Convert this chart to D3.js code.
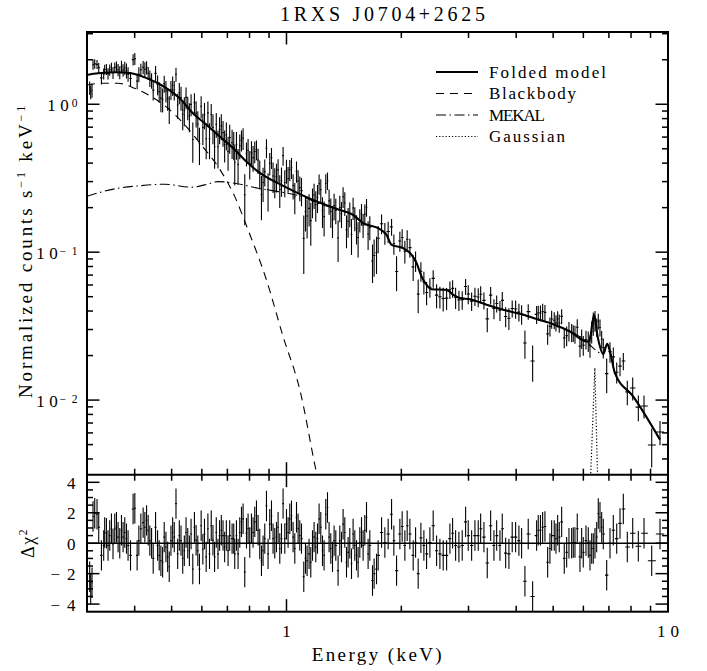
<!DOCTYPE html>
<html><head><meta charset="utf-8">
<script src="https://cdn.jsdelivr.net/npm/d3@7"></script>
<style>
body{margin:0;background:#fff}
</style>
</head><body>
<svg id="c" width="707" height="671"></svg>
<script>
// ---------------- DATA ----------------
const titleText = "1RXS J0704+2625";
const xTitle = "Energy (keV)";
const legendItems = ["Folded model","Blackbody","MEKAL","Gaussian"];

// bin centre energies (keV)
const energy = [
0.3049,0.3068,0.3092,0.3111,0.3143,0.3187,0.3220,0.3273,0.3318,0.3338,0.3373,0.3406,0.3441,0.3477,0.3510,0.3547,0.3584,
0.3619,0.3656,0.3694,0.3730,0.3768,0.3807,0.3844,0.3901,0.3963,0.4004,0.4060,0.4102,0.4152,0.4210,0.4254,0.4298,0.4340,0.4384,0.4430,0.4473,
0.4538,0.4594,0.4638,0.4686,0.4735,0.4781,0.4831,0.4881,0.4928,0.4979,0.5031,0.5080,0.5133,0.5186,
0.5237,0.5291,0.5346,0.5398,0.5454,0.5511,0.5565,0.5622,0.5681,0.5737,0.5796,0.5856,0.5914,0.5975,
0.6037,0.6096,0.6159,0.6223,0.6284,0.6350,0.6416,0.6479,0.6546,0.6614,0.6679,0.6748,0.6818,0.6885,0.6956,0.7029,0.7098,0.7202,0.7274,0.7318,0.7394,0.7466,
0.7543,0.7621,0.7695,0.7774,0.7855,0.7931,0.8012,0.8095,0.8173,0.8257,
0.8343,0.8424,0.8510,0.8598,0.8682,0.8771,0.8862,0.8948,0.9040,0.9134,
0.9222,0.9318,0.9414,0.9506,0.9603,0.9703,0.9797,0.9898,1.0000,1.0097,
1.0201,1.0306,1.0407,1.0514,1.0623,1.0725,1.0836,1.0948,1.1100,1.1215,
1.1324,1.1461,1.1580,1.1700,1.1813,1.1935,1.2058,1.2175,1.2300,1.2427,
1.2548,1.2677,1.2808,1.2932,
1.3066,1.3201,1.3329,1.3466,1.3654,1.3795,1.3937,1.4073,1.4218,1.4365,
1.4504,1.4654,1.4805,1.4949,1.5103,1.5259,1.5407,1.5566,1.5727,1.5879,
1.6043,1.6209,1.6366,1.6535,1.6807,1.6970,1.7218,1.7389,1.7750,
1.8107,1.8471,1.8855,1.9118,1.9433,1.9824,2.0101,2.0431,2.0717,2.1058,2.1482,2.1796,2.2141,2.2505,2.2916,2.3292,2.3762,2.4240,2.4743,
2.5241,2.5749,2.6284,2.6813,2.7254,2.7752,2.8311,2.8881,2.9480,2.9947,3.0569,3.1185,3.1813,3.2278,3.2928,3.3591,3.4288,3.4978,3.5554,3.6270,3.6776,3.7539,3.8282,3.9053,3.9863,
4.0666,4.1333,4.2168,4.3017,4.4174,4.5254,4.5694,4.6306,4.6925,4.7581,4.8364,4.9040,4.9546,5.0330,5.0851,5.1376,5.1875,5.2632,5.3466,5.4247,5.5004,5.5909,5.6452,5.7035,5.7832,5.8783,5.9390,5.9966,
6.0952,6.1806,6.2445,6.3090,6.3702,6.4359,6.5023,6.5655,6.6332,6.7017,6.7669,6.9073,7.0465,7.1883,7.3376,7.4855,
7.6361,7.8226,8.0817,8.3602,8.6529,9.0634,9.5286];

// residuals (data-model)/error
const delchi = [
-2.2,-3.0,-2.6,1.75,1.97,1.9,1.05,-0.8,-0.15,0.7,0.65,-0.15,0.5,0.95,-0.05,0.95,1.05,
0.4,0,0.85,0.4,0.7,0.3,-0.15,-0.8,2.25,2.3,-0.8,0.17,0.95,1.35,1.05,1.5,0.85,0.17,0,-1.0,
1.05,-0.15,-0.8,-1.15,-1.25,0.4,-0.25,-0.9,-1.55,0.17,0.7,0.4,2.6,-0.7,
0.5,0.17,-1.0,-0.5,0.7,0,-0.5,0.6,-1.7,1.05,0.2,-0.5,-1.7,1.15,
-0.4,0.6,-0.9,0.95,-0.7,1.15,0.2,-0.9,0.7,-0.7,0.5,0.85,0.5,-0.25,0.5,-0.5,0.5,0.3,0.3,-0.7,0.5,-0.7,
0.7,1.4,1.6,-1.9,0.65,0.95,0.05,0.95,0.7,1.4,
1.8,0.85,-0.05,-1.15,-0.5,0.3,2.45,-0.7,1.25,1.8,
0.3,0,0.4,1.05,-0.35,0.3,2.6,0.3,1.25,0.7,
1.6,1.8,0.4,-0.35,1.7,0.95,0.5,0.3,-2.2,-1.0,
-1.15,-0.7,-1.25,-0.15,0.4,-0.25,0.3,1.6,1.05,-0.5,
-0.8,1.9,2.35,0.4,
-0.35,-0.9,0.17,-0.15,-1.8,0.17,-0.25,1.25,0.7,-1.25,
-0.6,0,-1.35,0.6,-0.15,-0.8,-1.25,0.05,0.7,-0.15,
0.85,1.7,-0.7,-0.15,-2.45,-2.0,-1.7,-0.8,0.7,
0.05,0.6,1.9,0.17,-1.8,0.6,1.1,-0.15,1.15,0.6,-0.8,0.05,-2.0,0.35,-0.15,-0.7,0.05,1.15,-0.5,
-0.7,-0.8,-0.8,0.3,0.65,-0.15,-0.25,-0.15,1.4,0.5,-0.15,0.5,0.5,0.95,0.4,-1.3,1.15,-0.15,0.5,-0.15,0.95,-0.65,-0.7,0.4,0.4,
0.17,0,-2.5,0.6,-3.5,0.5,0.85,0.85,1.05,1.1,-1.25,-0.35,0.5,0.5,0.3,0.85,0.4,1.4,-1.0,-0.6,0,0,0.05,0.05,0.95,-0.9,0,-0.6,
0.17,0.05,-0.8,-0.35,-0.35,0,0.4,1.95,1.7,1.05,0.6,-2.1,0,0.85,0.3,1.3,
2.25,-0.25,0.65,-0.2,0.65,-1.15,0.6];

const relErr = [
.085,.08,.085,.09,.085,.08,.085,.09,.085,.08,.09,.085,.09,.085,.09,.085,.09,
.1,.1,.11,.1,.11,.12,.11,.1,.11,.12,.11,.12,.11,.12,.13,.12,.11,.13,.12,.13,
.14,.15,.14,.16,.15,.14,.16,.15,.16,.15,.17,.16,.15,.17,
.18,.19,.18,.2,.19,.18,.2,.19,.2,.19,.21,.2,.19,.21,
.22,.23,.22,.24,.23,.22,.24,.23,.22,.24,.23,.24,.22,.23,.24,.23,.25,.24,.23,.25,.24,.23,
.22,.21,.23,.22,.21,.23,.22,.24,.23,.22,
.21,.23,.22,.24,.23,.22,.23,.24,.22,.23,
.25,.23,.24,.22,.23,.24,.23,.22,.24,.23,
.22,.23,.21,.22,.23,.22,.21,.23,.22,.21,
.22,.21,.23,.22,.21,.22,.23,.21,.22,.21,
.22,.21,.2,.21,
.21,.2,.21,.19,.2,.21,.19,.2,.21,.19,
.2,.19,.2,.19,.18,.19,.2,.18,.19,.18,
.19,.18,.19,.18,.17,.18,.19,.18,.17,
.17,.18,.17,.16,.18,.17,.16,.17,.18,.16,.17,.16,.17,.16,.17,.16,.15,.16,.17,
.15,.16,.15,.14,.15,.16,.15,.14,.15,.16,.14,.15,.16,.15,.14,.15,.16,.15,.14,.15,.16,.14,.15,.14,.15,
.14,.15,.14,.13,.14,.15,.13,.14,.15,.14,.13,.14,.15,.14,.13,.14,.15,.14,.13,.14,.15,.14,.13,.14,.15,.14,.15,.14,
.15,.16,.15,.16,.17,.16,.15,.16,.17,.16,.17,.17,.16,.18,.17,.18,
.19,.18,.2,.19,.2,.22,.21];

// folded model (solid)
const modelE = [0.30,0.3206,0.3617,0.392,0.4249,0.4606,0.4994,0.5304,0.5634,0.6105,0.6616,0.7175,0.7771,0.8423,0.9136,0.99,1.095,1.223,1.38,1.495,1.588,1.739,1.829,1.886,2.022,2.128,2.193,2.26,2.329,2.40,2.629,2.735,2.849,3.025,3.346,3.70,4.093,4.526,5.004,5.534,6.12,6.217,6.40,6.54,6.765,6.93,7.045,7.26,8.11,9.53];
const modelF = [1.578,1.62,1.645,1.62,1.52,1.386,1.216,1.069,0.891,0.744,0.62,0.517,0.4204,0.3504,0.308,0.2774,0.2439,0.216,0.1931,0.1786,0.157,0.1452,0.1309,0.112,0.1064,0.0959,0.0843,0.0684,0.0601,0.0562,0.0556,0.0515,0.0489,0.0481,0.0441,0.0408,0.0383,0.0353,0.0326,0.0291,0.0249,0.0249,0.0377,0.0269,0.0205,0.024,0.0213,0.0152,0.01057,0.0054];
// blackbody (dashed)
const bbE = [0.30,0.327,0.3617,0.40,0.4426,0.489,0.5413,0.598,0.6616,0.732,0.793,0.886,0.9797,1.084,1.199,1.25];
const bbF = [1.35,1.386,1.386,1.283,1.126,0.94,0.7246,0.531,0.3788,0.2375,0.1415,0.065,0.0269,0.01174,0.00321,0.0020];
// MEKAL (dash-dot)
const mekalE = [0.30,0.3617,0.4083,0.48,0.5634,0.6105,0.6616,0.732,0.8423,0.9506,1.095,1.223,1.38,1.495,1.588,1.739,1.829,1.886,2.022,2.128,2.193,2.26,2.329,2.40,2.629,2.735,2.849,3.025,3.346,3.70,4.093,4.526,5.004,5.534,6.12,6.37,6.765,6.93,7.045,7.26,8.11,9.53];
const mekalF = [0.239,0.2707,0.2805,0.288,0.275,0.285,0.30,0.2925,0.2707,0.2567,0.238,0.212,0.193,0.1786,0.157,0.1452,0.1309,0.112,0.1064,0.0959,0.0843,0.0684,0.0601,0.0562,0.0556,0.0515,0.0489,0.0481,0.0441,0.0408,0.0383,0.0353,0.0326,0.0291,0.0249,0.02245,0.0205,0.024,0.0213,0.0152,0.01057,0.0054];
// Gaussian (dotted)
const gaussE = [6.25,6.43,6.55];
const gaussF = [0.0025,0.0165,0.0025];

// tick values / labels
const xMinorTicks = [0.4,0.5,0.6,0.7,0.8,0.9,2,3,4,5,6,7,8,9];
const xMajorTicks = [1,10];
const xTickLabels = ["1","10"];
const yDecades = [0.001,0.01,0.1,1];
const yTickLabels = [{v:1,exp:"0"},{v:0.1,exp:"\u22121"},{v:0.01,exp:"\u22122"}];
const rTickLabels = [{v:4,t:"4"},{v:2,t:"2"},{v:0,t:"0"},{v:-2,t:"\u22122"},{v:-4,t:"\u22124"}];

// ---------------- LAYOUT ----------------
const FONT = "'Liberation Serif'";
const L=87, R=668, T=32, M=474.7, B=611.7;
const svg = d3.select("#c");
const x = d3.scaleLog().domain([0.3,10]).range([L,R]);
const y = d3.scaleLog().domain([0.00313,3.08]).range([M,T]);
const yr = d3.scaleLinear().domain([-4.5,4.5]).range([B,M]);

const defs = svg.append("defs");
defs.append("clipPath").attr("id","cTop").append("rect").attr("x",L).attr("y",T).attr("width",R-L).attr("height",M-T);
defs.append("clipPath").attr("id","cBot").append("rect").attr("x",L).attr("y",M).attr("width",R-L).attr("height",B-M);

function interpModel(E){
  let i = d3.bisectRight(modelE,E)-1;
  i = Math.max(0,Math.min(modelE.length-2,i));
  const e0=modelE[i], e1=modelE[i+1], f0=modelF[i], f1=modelF[i+1];
  const t = Math.log(E/e0)/Math.log(e1/e0);
  return Math.exp(Math.log(f0)+t*Math.log(f1/f0));
}
const n = energy.length;
const pts = energy.map((E,i)=>{
  const m = interpModel(E), err = relErr[i]*m;
  const prev = i>0 ? energy[i-1] : E*E/energy[i+1];
  const next = i<n-1 ? energy[i+1] : E*E/energy[i-1];
  return {E, f:m+delchi[i]*err, err, r:delchi[i], lo:Math.sqrt(prev*E), hi:Math.sqrt(E*next)};
});

// ---------------- TOP PANEL ----------------
const gTop = svg.append("g").attr("clip-path","url(#cTop)");
const lineS = d3.line().x(d=>x(d[0])).y(d=>y(d[1])).curve(d3.curveMonotoneX);
const lineL = d3.line().x(d=>x(d[0])).y(d=>y(d[1]));
const zip = (a,b)=>a.map((v,i)=>[v,b[i]]);

gTop.append("path").attr("d",lineS(zip(bbE,bbF))).attr("fill","none").attr("stroke","#000").attr("stroke-width",1.1).attr("stroke-dasharray","8,6");
gTop.append("path").attr("d",lineS(zip(mekalE,mekalF))).attr("fill","none").attr("stroke","#000").attr("stroke-width",1.1).attr("stroke-dasharray","10,3.5,1.5,3.5");
gTop.append("path").attr("d",lineL(zip(gaussE,gaussF))).attr("fill","none").attr("stroke","#000").attr("stroke-width",1.2).attr("stroke-dasharray","1.2,2");

const gd = gTop.append("g").attr("stroke","#000").attr("stroke-width",1.1);
gd.selectAll("line.v").data(pts).join("line").attr("class","v")
  .attr("x1",d=>x(d.E)).attr("x2",d=>x(d.E)).attr("y1",d=>y(d.f-d.err)).attr("y2",d=>y(d.f+d.err));
gd.selectAll("line.h").data(pts).join("line").attr("class","h")
  .attr("x1",d=>x(d.lo)).attr("x2",d=>x(d.hi)).attr("y1",d=>y(d.f)).attr("y2",d=>y(d.f));

gTop.append("path").attr("d",lineS(zip(modelE,modelF))).attr("fill","none").attr("stroke","#000").attr("stroke-width",2.1).attr("stroke-linejoin","round");

// ---------------- BOTTOM PANEL ----------------
const gBot = svg.append("g").attr("clip-path","url(#cBot)");
gBot.append("line").attr("x1",L).attr("x2",R).attr("y1",yr(0)).attr("y2",yr(0)).attr("stroke","#000").attr("stroke-width",1.4);
const gr = gBot.append("g").attr("stroke","#000").attr("stroke-width",1.1);
gr.selectAll("line.v").data(pts).join("line").attr("class","v")
  .attr("x1",d=>x(d.E)).attr("x2",d=>x(d.E)).attr("y1",d=>yr(d.r-1)).attr("y2",d=>yr(d.r+1));
gr.selectAll("line.h").data(pts).join("line").attr("class","h")
  .attr("x1",d=>x(d.lo)).attr("x2",d=>x(d.hi)).attr("y1",d=>yr(d.r)).attr("y2",d=>yr(d.r));

// ---------------- FRAME & TICKS ----------------
const gAx = svg.append("g").attr("stroke","#000").attr("stroke-width",1.5);
const MAJ=12.5, MIN=6;
function hTicks(yPos, dir){
  xMinorTicks.concat(xMajorTicks).forEach(v=>{
    const len = xMajorTicks.includes(v)?MAJ:MIN;
    gAx.append("line").attr("x1",x(v)).attr("x2",x(v)).attr("y1",yPos).attr("y2",yPos+dir*len);
  });
}
hTicks(T,1); hTicks(M,-1); hTicks(M,1); hTicks(B,-1);

yDecades.forEach(d=>{
  for(let k=1;k<=9;k++){
    const v=d*k;
    if(v<y.domain()[0]||v>y.domain()[1]) continue;
    const len = k===1?MAJ:MIN;
    gAx.append("line").attr("x1",L).attr("x2",L+len).attr("y1",y(v)).attr("y2",y(v));
    gAx.append("line").attr("x1",R).attr("x2",R-len).attr("y1",y(v)).attr("y2",y(v));
  }
});
d3.range(-4,4.01,0.5).forEach(v=>{
  const len = (Math.abs(v)%2===0)?MAJ:MIN;
  gAx.append("line").attr("x1",L).attr("x2",L+len).attr("y1",yr(v)).attr("y2",yr(v));
  gAx.append("line").attr("x1",R).attr("x2",R-len).attr("y1",yr(v)).attr("y2",yr(v));
});

svg.append("rect").attr("x",L).attr("y",T).attr("width",R-L).attr("height",B-T)
  .attr("fill","none").attr("stroke","#000").attr("stroke-width",2);
svg.append("line").attr("x1",L).attr("x2",R).attr("y1",M).attr("y2",M).attr("stroke","#000").attr("stroke-width",2);

// ---------------- TEXT ----------------
function txt(){ return svg.append("text").attr("font-family",FONT).attr("fill","#000"); }
txt().attr("x",382.5).attr("y",21).attr("text-anchor","middle")
  .attr("font-size",20).attr("textLength",205).attr("lengthAdjust","spacing").text(titleText);

yTickLabels.forEach(o=>{
  const supW = o.exp.length>1?18:7;
  const ty = y(o.v);
  txt().attr("x",77.5).attr("y",ty+2.5).attr("text-anchor","end").attr("font-size",11.5)
    .attr("textLength",supW).attr("lengthAdjust","spacing").text(o.exp);
  txt().attr("x",77.5-supW-1.7).attr("y",ty+7.2).attr("text-anchor","end").attr("font-size",17)
    .attr("textLength",21.6).attr("lengthAdjust","spacing").text("10");
});
rTickLabels.forEach(o=>{
  txt().attr("x",75.5).attr("y",yr(o.v)+6.5).attr("text-anchor","end").attr("font-size",17)
    .attr("textLength",o.t.length>1?25:10).attr("lengthAdjust","spacing").text(o.t);
});
xMajorTicks.forEach((v,i)=>{
  txt().attr("x",x(v)).attr("y",637).attr("text-anchor","middle").attr("font-size",17)
    .attr("textLength",i===0?8:22).attr("lengthAdjust","spacing").text(xTickLabels[i]);
});
txt().attr("x",376.7).attr("y",660.5).attr("text-anchor","middle").attr("font-size",19)
  .attr("textLength",130).attr("lengthAdjust","spacing").text(xTitle);

function fitWidth(t,w){
  const cur = t.node().getComputedTextLength();
  const nch = t.text().length;
  t.attr("letter-spacing",(w-cur)/nch);
}
const yl = txt().attr("transform","translate(31.5,250.5) rotate(-90)").attr("text-anchor","middle").attr("font-size",19);
yl.append("tspan").text("Normalized counts s");
yl.append("tspan").attr("dy",-7).attr("font-size",12).text("\u22121");
yl.append("tspan").attr("dy",7).text(" keV");
yl.append("tspan").attr("dy",-7).attr("font-size",12).text("\u22121");
fitWidth(yl,295);

const dl = txt().attr("transform","translate(34,543) rotate(-90)").attr("text-anchor","middle").attr("font-size",18);
dl.append("tspan").text("\u0394\u03C7");
dl.append("tspan").attr("dy",-7).attr("font-size",11.5).text("2");
fitWidth(dl,30);

// legend
const legY = [72,93.5,115,136.5];
const legDash = [null,"8,6","10,3.5,1.5,3.5","1.2,2"];
const legW = [117,87,56,76];
legendItems.forEach((name,i)=>{
  const ln = svg.append("line").attr("x1",436).attr("x2",478).attr("y1",legY[i]).attr("y2",legY[i])
    .attr("stroke","#000").attr("stroke-width",i===0?2.1:1.1);
  if(legDash[i]) ln.attr("stroke-dasharray",legDash[i]);
  txt().attr("x",489).attr("y",legY[i]+5.6).attr("font-size",17)
    .attr("textLength",legW[i]).attr("lengthAdjust","spacing").text(name);
});
</script>
</body></html>
